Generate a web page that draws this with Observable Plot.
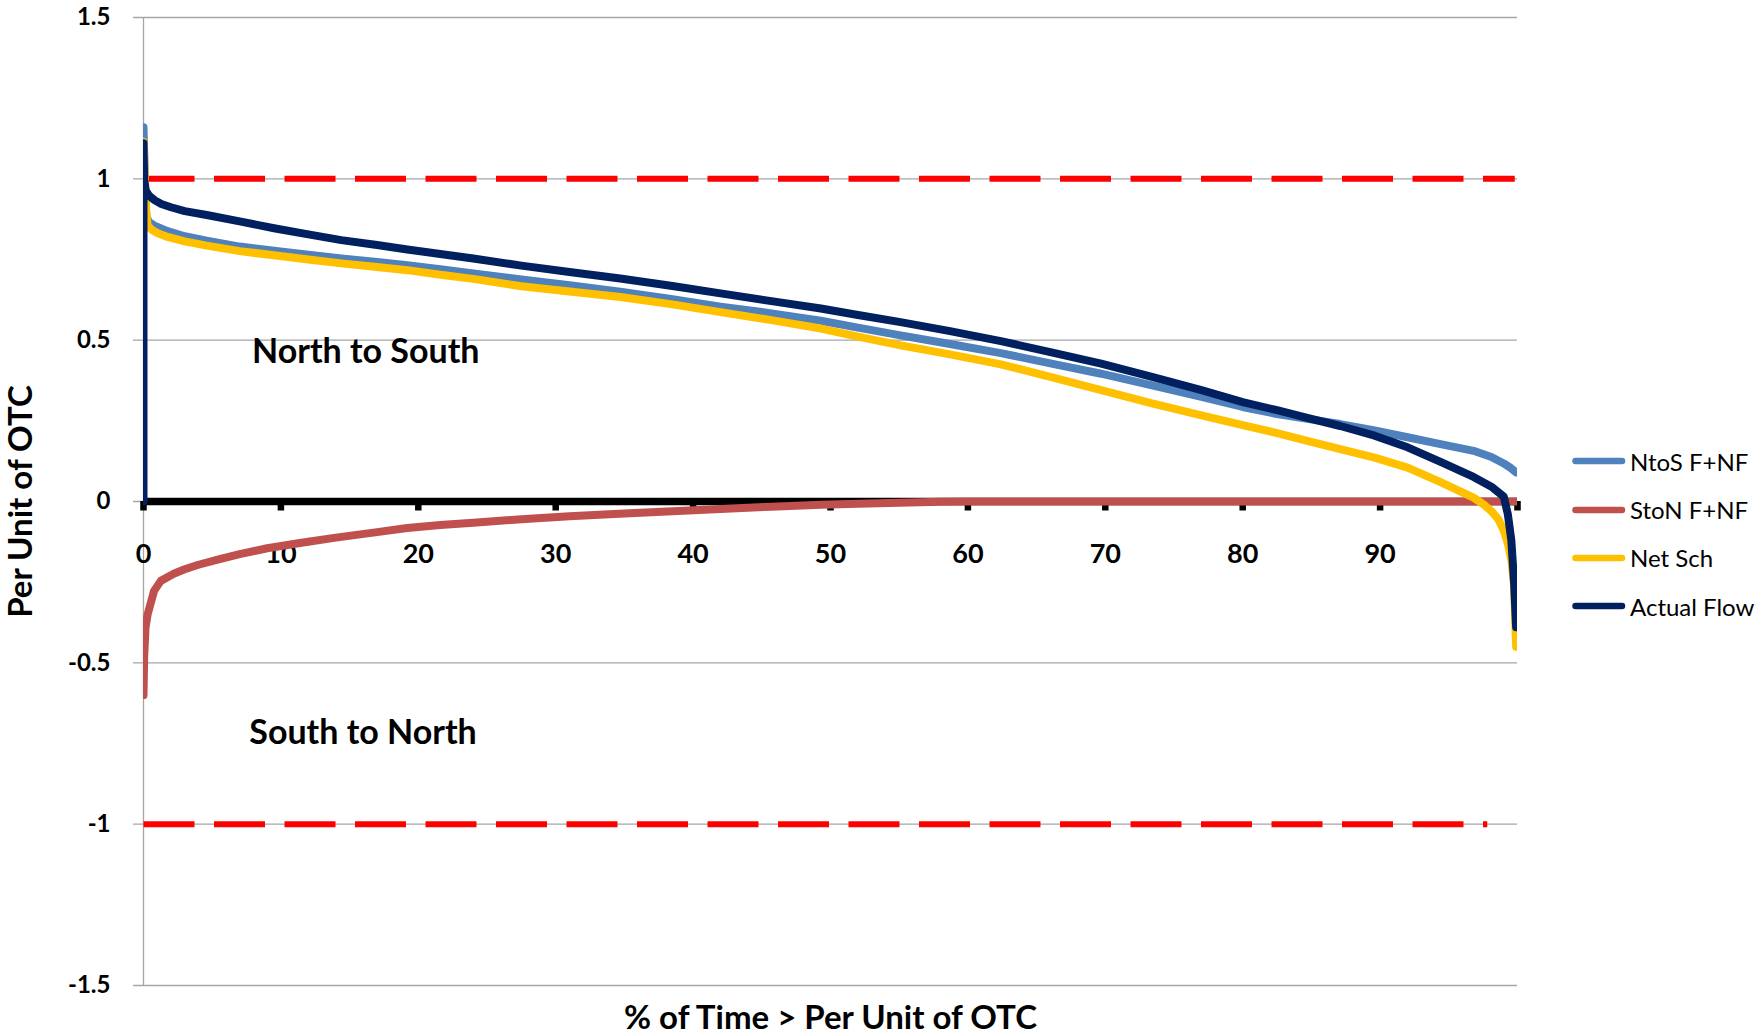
<!DOCTYPE html>
<html>
<head>
<meta charset="utf-8">
<script src="https://cdn.jsdelivr.net/npm/d3@7"></script>
<script src="https://cdn.jsdelivr.net/npm/@observablehq/plot@0.6"></script>
<style>
  html, body { margin: 0; padding: 0; background: #fff; }
  #wrap { position: relative; width: 1759px; height: 1034px; font-family: Lato, "Open Sans", sans-serif; color: #000; }
  #legend { position: absolute; left: 1570px; top: 437px; }
  .row { display: flex; align-items: center; height: 48.4px; font-size: 24px; white-space: nowrap; }
  .row svg { margin-right: 2px; }
</style>
</head>
<body>
<div id="wrap"><div id="legend"></div></div>
<script>
// Axis ticks
const xTicks = [0, 10, 20, 30, 40, 50, 60, 70, 80, 90, 100];
const xTickLabels = [0, 10, 20, 30, 40, 50, 60, 70, 80, 90];
const yTicks = [-1.5, -1, -0.5, 0, 0.5, 1, 1.5];

// Series names and colours
const seriesNames = ["NtoS F+NF", "StoN F+NF", "Net Sch", "Actual Flow"];
const seriesColors = ["#4f81bd", "#c0504d", "#ffc000", "#002060"];

// Duration curves: [% of time, per unit of OTC]
const ntosFlow = [
  [0, 1.16], [0.1, 1.0], [0.2, 0.885], [0.4, 0.866], [0.8, 0.855], [1.75, 0.838], [3, 0.822],
  [4.6, 0.808], [7, 0.79], [9.5, 0.777], [12, 0.765], [14.4, 0.753], [17, 0.742], [19.2, 0.732],
  [21.6, 0.72], [24, 0.707], [27.5, 0.688], [31, 0.67], [34.7, 0.65], [38.5, 0.627], [42, 0.604],
  [45.7, 0.583], [49.3, 0.56], [52, 0.539], [55.1, 0.515], [58.7, 0.488], [62.4, 0.46], [66, 0.428],
  [69.7, 0.396], [73.4, 0.36], [77, 0.324], [80, 0.293], [82.5, 0.271], [84.7, 0.256], [87.1, 0.24],
  [89.6, 0.22], [92, 0.199], [94.4, 0.178], [96.8, 0.157], [98.1, 0.138], [99, 0.118], [99.5, 0.104],
  [99.9, 0.09]
];
const stonFlow = [
  [0, -0.6], [0.05, -0.48], [0.15, -0.39], [0.3, -0.35], [0.77, -0.277], [1.26, -0.246], [2.2, -0.224],
  [3, -0.21], [4, -0.196], [5.4, -0.18], [7, -0.163], [9, -0.145], [11.5, -0.128], [14, -0.112],
  [17, -0.095], [19.2, -0.082], [21.6, -0.073], [24, -0.066], [27.5, -0.055], [31, -0.046], [35, -0.037],
  [38.5, -0.03], [42, -0.023], [45.7, -0.016], [49.3, -0.01], [52, -0.007], [55, -0.004], [58, -0.001],
  [60, 0], [70, 0], [80, 0], [90, 0], [100, 0]
];
const netSch = [
  [0, 1.115], [0.1, 1.0], [0.2, 0.9], [0.3, 0.855], [0.6, 0.842], [1, 0.832], [1.75, 0.82], [3, 0.806],
  [4.6, 0.793], [7, 0.776], [9.5, 0.763], [12, 0.75], [14.4, 0.738], [17, 0.727], [19.2, 0.717],
  [21.6, 0.703], [24, 0.69], [27.5, 0.667], [31, 0.651], [34.7, 0.634], [38.5, 0.611], [42, 0.587],
  [45.7, 0.562], [49.3, 0.536], [52, 0.511], [55.1, 0.484], [58.7, 0.456], [62.4, 0.425], [66, 0.386],
  [69.7, 0.345], [73.4, 0.304], [77, 0.267], [80, 0.237], [82.5, 0.212], [84.7, 0.188], [87.1, 0.162],
  [89.6, 0.136], [92, 0.105], [94.4, 0.06], [96.8, 0.012], [97.5, -0.008], [98.1, -0.03], [98.6, -0.055],
  [99, -0.09], [99.3, -0.13], [99.55, -0.18], [99.75, -0.26], [99.9, -0.45]
];
const actualFlow = [
  [0, 0], [0, 1.11], [0.05, 1.0], [0.15, 0.965], [0.4, 0.948], [0.8, 0.934], [1.3, 0.922], [2, 0.912],
  [3, 0.9], [4.6, 0.888], [7, 0.868], [9.5, 0.847], [12, 0.828], [14.4, 0.81], [17, 0.795], [19.2, 0.781],
  [21.6, 0.767], [24, 0.753], [27.5, 0.731], [31, 0.711], [34.7, 0.691], [38.5, 0.668], [42, 0.645],
  [45.7, 0.621], [49.3, 0.598], [52, 0.578], [55.1, 0.556], [58.7, 0.528], [62.4, 0.497], [66, 0.463],
  [69.7, 0.427], [73.4, 0.386], [77, 0.345], [80, 0.308], [82.5, 0.283], [84.7, 0.259], [87.1, 0.234],
  [89.6, 0.204], [92, 0.168], [94.4, 0.123], [96.8, 0.076], [98.1, 0.046], [99, 0.015], [99.3, -0.04],
  [99.55, -0.12], [99.75, -0.25], [99.9, -0.39]
];

// OTC limits (dashed)
const upperLimit = [[0, 1], [99.8, 1]];
const lowerLimit = [[0, -1], [97.8, -1]];

// Region notes
const regionNotes = [
  {label: "North to South", x: 7.9, y: 0.428},
  {label: "South to North", x: 7.7, y: -0.75}
];

const xTitle = "% of Time > Per Unit of OTC";
const yTitle = "Per Unit of OTC";

// Long-format table for Plot
const seriesData = [ntosFlow, stonFlow, netSch, actualFlow];
const rows = seriesData.flatMap((pts, i) => pts.map(([x, y]) => ({series: seriesNames[i], x, y})));
const limitRows = [upperLimit, lowerLimit].flatMap((pts, i) => pts.map(([x, y]) => ({limit: i, x, y})));

const gridColor = "#a6a6a6";

const chart = Plot.plot({
  width: 1759,
  height: 1034,
  marginLeft: 143,
  marginRight: 242,
  marginTop: 17,
  marginBottom: 49,
  x: {domain: [0, 100], axis: null},
  y: {domain: [-1.5, 1.5], axis: null},
  color: {domain: seriesNames, range: seriesColors},
  style: {fontFamily: "Lato, 'Open Sans', sans-serif", background: "#fff", color: "#000", overflow: "visible"},
  marks: [
    // horizontal gridlines, extended left to form the tick marks
    Plot.ruleY(yTicks, {stroke: gridColor, strokeWidth: 1.3, insetLeft: -10}),
    // vertical axis line
    Plot.ruleX([0], {stroke: gridColor, strokeWidth: 1.3}),
    Plot.axisY({ticks: yTicks, tickSize: 0, tickPadding: 33, tickFormat: d => String(d), fontSize: 24, fontWeight: "bold", label: null}),
    // dashed limits
    Plot.line(limitRows, {x: "x", y: "y", z: "limit", stroke: "#ff0000", strokeWidth: 6, strokeDasharray: "51 19.5", strokeLinecap: "butt"}),
    // zero axis with ticks below it
    Plot.ruleY([0], {stroke: "#000", strokeWidth: 7.5}),
    Plot.ruleX(xTicks, {y1: () => 0, y2: () => 0, insetBottom: -9.5, stroke: "#000", strokeWidth: 6.5}),
    Plot.text(xTickLabels, {x: d => d, y: () => 0, dy: 61, lineAnchor: "bottom", fontSize: 27, fontWeight: "bold", text: d => String(d)}),
    // flow duration curves
    Plot.line(rows, {x: "x", y: "y", z: "series", stroke: "series", strokeWidth: 8, strokeLinecap: "round", strokeLinejoin: "round", clip: true}),
    // region notes
    Plot.text(regionNotes, {x: "x", y: "y", text: "label", textAnchor: "start", lineAnchor: "bottom", fontSize: 34, fontWeight: "bold"}),
    // axis titles
    Plot.text([xTitle], {frameAnchor: "bottom", dy: 43, textAnchor: "middle", lineAnchor: "bottom", fontSize: 33, fontWeight: "bold"}),
    Plot.text([yTitle], {frameAnchor: "left", dx: -122, rotate: -90, textAnchor: "middle", lineAnchor: "middle", fontSize: 33, fontWeight: "bold"})
  ]
});

const wrap = document.getElementById("wrap");
wrap.insertBefore(chart, wrap.firstChild);

// Legend: line swatches beside the chart
const legend = d3.select("#legend");
seriesNames.forEach((name, i) => {
  const row = legend.append("div").attr("class", "row");
  const sw = row.append("svg").attr("width", 58).attr("height", 12);
  sw.append("line")
    .attr("x1", 5.5).attr("x2", 52).attr("y1", 6).attr("y2", 6)
    .attr("stroke", seriesColors[i]).attr("stroke-width", 6.5).attr("stroke-linecap", "round");
  row.append("span").text(name);
});
</script>
</body>
</html>
